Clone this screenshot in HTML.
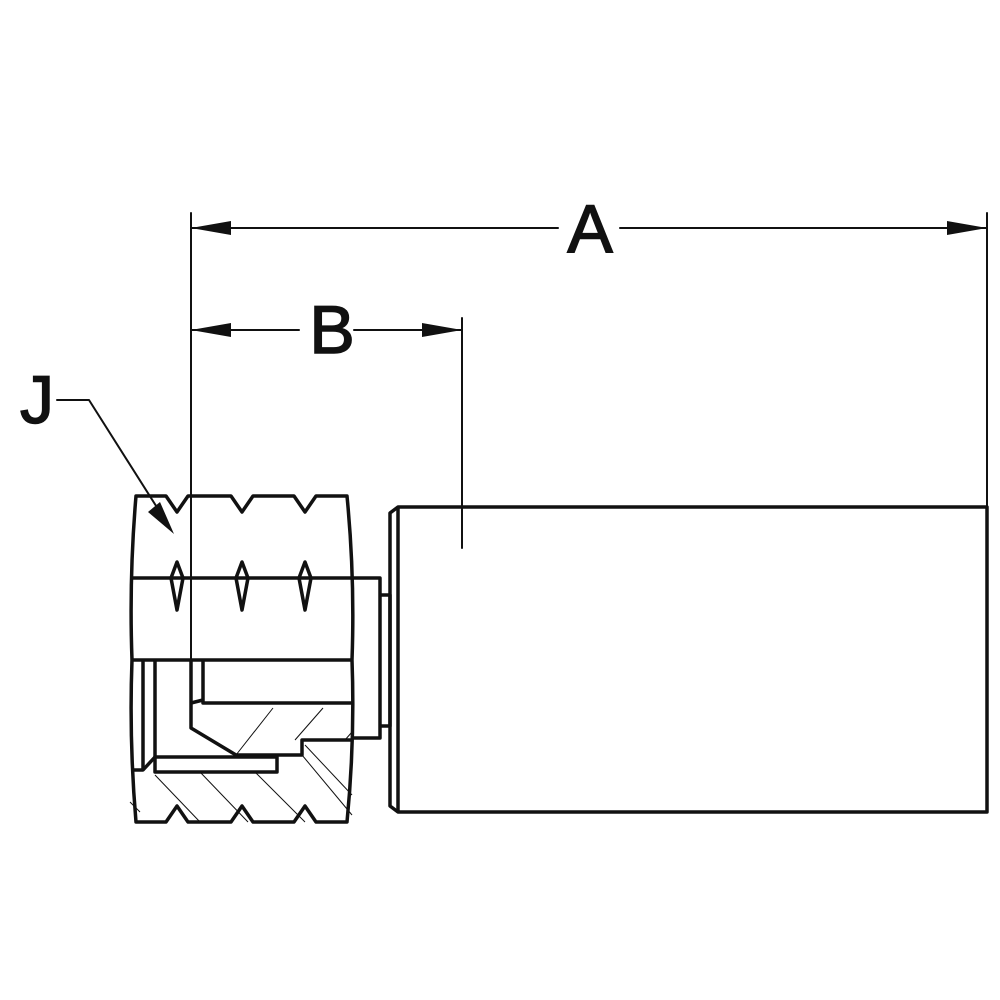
<!DOCTYPE html>
<html><head><style>html,body{margin:0;padding:0;background:#fff}svg{display:block}</style></head>
<body>
<svg width="1000" height="1000" viewBox="0 0 1000 1000" xmlns="http://www.w3.org/2000/svg">
<g stroke="#111" fill="none" stroke-linecap="round" stroke-linejoin="round">
<!-- dimension lines -->
<line x1="191" y1="213" x2="191" y2="660" stroke-width="2"/>
<line x1="987" y1="213" x2="987" y2="507" stroke-width="2"/>
<line x1="462" y1="318" x2="462" y2="548" stroke-width="2"/>
<line x1="191" y1="228" x2="558" y2="228" stroke-width="2"/>
<line x1="620" y1="228" x2="987" y2="228" stroke-width="2"/>
<line x1="191" y1="330" x2="299" y2="330" stroke-width="2"/>
<line x1="354" y1="330" x2="462" y2="330" stroke-width="2"/>
<polyline points="57,400 89,400 165,520" stroke-width="2"/>
</g>
<g fill="#111">
<polygon points="191,228 231,221 231,235"/>
<polygon points="987,228 947,221 947,235"/>
<polygon points="191,330 231,323 231,337"/>
<polygon points="462,330 422,323 422,337"/>
<polygon points="174,534 148,512 160,502"/>
</g>
<g font-family="Liberation Sans, sans-serif" font-size="68" fill="#111" stroke="#111" stroke-width="1.5" text-anchor="middle">
<text x="590" y="252">A</text>
<text x="332" y="353">B</text>
<text x="37" y="423">J</text>
</g>
<!-- hatching -->
<g stroke="#111" stroke-width="1" fill="none">
<line x1="236" y1="755" x2="273" y2="708"/>
<line x1="295" y1="740" x2="323" y2="708"/>
<line x1="345" y1="740" x2="352" y2="732"/>
<line x1="140" y1="812" x2="130" y2="802"/>
<line x1="155" y1="775" x2="200" y2="822"/>
<line x1="200" y1="772" x2="248" y2="822"/>
<line x1="255" y1="772" x2="305" y2="822"/>
<line x1="305" y1="745" x2="352" y2="795"/>
<line x1="302" y1="755" x2="352" y2="815"/>
</g>
<g stroke="#111" fill="none" stroke-width="3.5" stroke-linejoin="round">
<!-- nut outline -->
<path d="M136,496 L166,496 L177,512 L188,496 L231,496 L242,512 L253,496 L294,496 L305,512 L316,496 L347,496 Q355,578 352,660 Q355,740 347,822 L316,822 L305,806 L294,822 L253,822 L242,806 L231,822 L188,822 L177,806 L166,822 L136,822 Q129,740 132,660 Q129,578 136,496 Z"/>
<line x1="132" y1="578" x2="352" y2="578"/>
<line x1="132" y1="660" x2="352" y2="660"/>
<!-- diamonds -->
<path d="M177,562 L171,578 L177,610 L183,578 Z"/>
<path d="M242,562 L236,578 L242,610 L248,578 Z"/>
<path d="M305,562 L299,578 L305,610 L311,578 Z"/>
<!-- step -->
<polyline points="352,578 380,578 380,738 352,738"/>
<polyline points="380,595 390,595 390,726 380,726"/>
<!-- sleeve -->
<path d="M398,507 L987,507 L987,812 L398,812 L390,806 L390,513 Z"/>
<line x1="398" y1="507" x2="398" y2="812"/>
<!-- internals -->
<polyline points="191,660 191,728 236,755 302,755 302,740 352,740"/>
<polyline points="203,660 203,703 352,703"/>
<polyline points="191,703 203,700"/>
<line x1="143" y1="660" x2="143" y2="770"/>
<line x1="155" y1="660" x2="155" y2="757"/>
<rect x="155" y="757" width="122" height="15"/>
<polyline points="132,770 143,770 155,757"/>
</g>
</svg>
</body></html>
